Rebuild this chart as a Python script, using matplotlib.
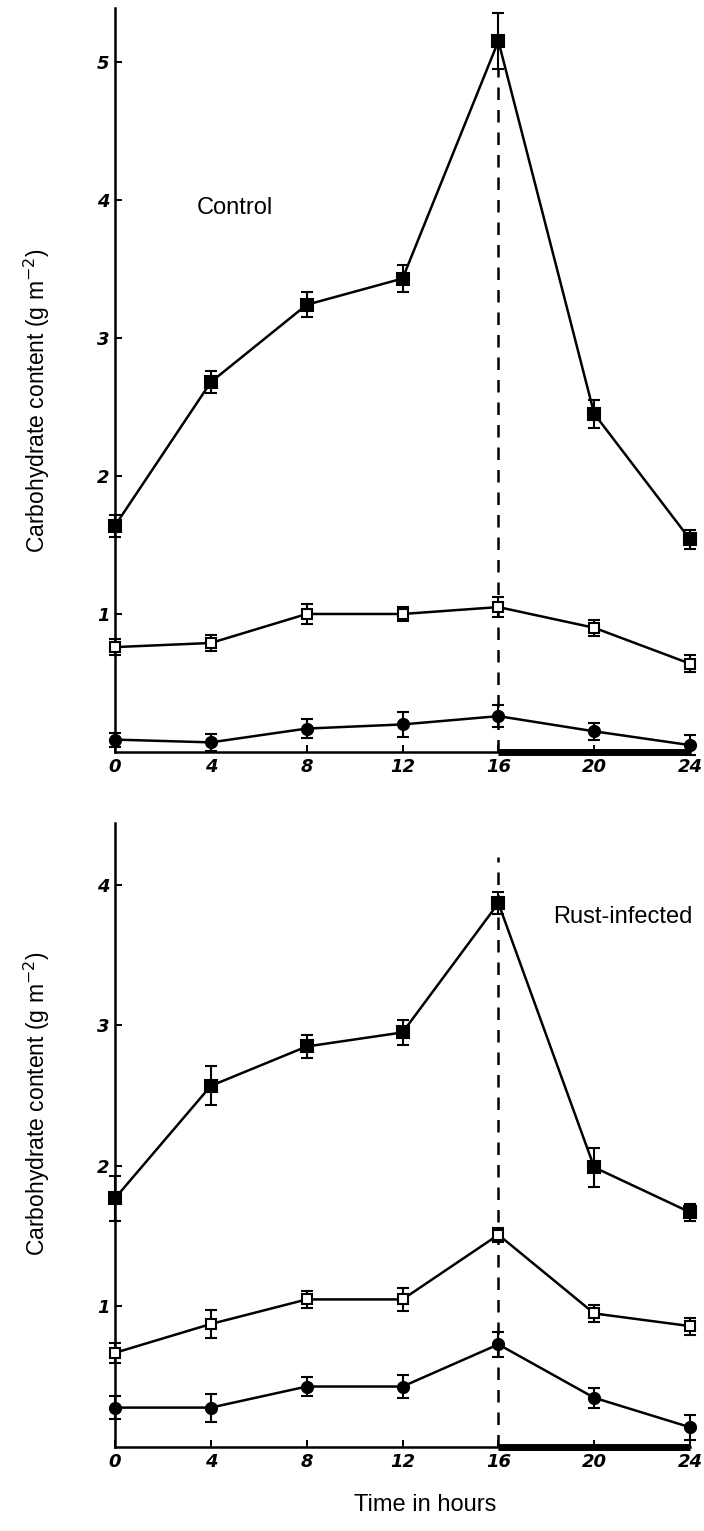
import matplotlib
matplotlib.use("Agg")
import matplotlib.pyplot as plt

plt.rcParams['font.family'] = ['Liberation Sans', 'DejaVu Sans']

hours = [0, 4, 8, 12, 16, 20, 24]

# Control panel
ctrl_sq_filled = [1.64, 2.68, 3.24, 3.43, 5.15, 2.45, 1.54]
ctrl_sq_filled_err = [0.08, 0.08, 0.09, 0.10, 0.20, 0.10, 0.07]
ctrl_sq_open = [0.76, 0.79, 1.00, 1.00, 1.05, 0.90, 0.64]
ctrl_sq_open_err = [0.06, 0.06, 0.07, 0.05, 0.07, 0.06, 0.06]
ctrl_circ = [0.09, 0.07, 0.17, 0.20, 0.26, 0.15, 0.05]
ctrl_circ_err = [0.05, 0.06, 0.07, 0.09, 0.08, 0.06, 0.07]

# Rust-infected panel
rust_sq_filled = [1.77, 2.57, 2.85, 2.95, 3.87, 1.99, 1.67]
rust_sq_filled_err = [0.16, 0.14, 0.08, 0.09, 0.08, 0.14, 0.06]
rust_sq_open = [0.67, 0.875, 1.05, 1.05, 1.51, 0.95, 0.86]
rust_sq_open_err = [0.07, 0.10, 0.06, 0.08, 0.05, 0.06, 0.06]
rust_circ = [0.28, 0.28, 0.43, 0.43, 0.73, 0.35, 0.14]
rust_circ_err = [0.08, 0.10, 0.07, 0.08, 0.09, 0.07, 0.09]

x_ticks = [0, 4, 8, 12, 16, 20, 24]
ctrl_yticks = [1, 2, 3, 4, 5]
rust_yticks = [1, 2, 3, 4]
ylabel = "Carbohydrate content (g m$^{-2}$)"

fig = plt.figure(figsize=(7.04, 15.31), dpi=100)
ax1 = fig.add_axes([0.1634, 0.5088, 0.8168, 0.486])
ax2 = fig.add_axes([0.1634, 0.0549, 0.8168, 0.4075])

def style(ax, ymax, yticks, label_y):
    ax.set_xlim(0, 24)
    ax.set_ylim(0, ymax)
    for s in ['top', 'right']:
        ax.spines[s].set_visible(False)
    for s in ['left', 'bottom']:
        ax.spines[s].set_linewidth(1.8)
    ax.set_xticks(x_ticks)
    ax.set_yticks(yticks)
    ax.tick_params(direction='in', length=5, width=1.4, labelsize=13, pad=4)
    for lab in ax.get_xticklabels() + ax.get_yticklabels():
        lab.set_fontweight('bold')
        lab.set_fontstyle('italic')
        lab.set_family('DejaVu Sans')
    ax.set_ylabel(ylabel, fontsize=16.5)
    ax.yaxis.set_label_coords(-0.110, label_y)

def series(ax, y, err, marker, filled, ms):
    ax.errorbar(hours, y, yerr=err, color='black', lw=1.8, marker=marker,
                ms=ms, mfc='black' if filled else 'white', mec='black', mew=1.5,
                elinewidth=1.5, capsize=4, capthick=1.5, clip_on=False, zorder=5)

style(ax1, 5.39, ctrl_yticks, 0.472)
style(ax2, 4.44, rust_yticks, 0.551)

series(ax1, ctrl_sq_filled, ctrl_sq_filled_err, 's', True, 8)
series(ax1, ctrl_sq_open, ctrl_sq_open_err, 's', False, 6.5)
series(ax1, ctrl_circ, ctrl_circ_err, 'o', True, 8)

series(ax2, rust_sq_filled, rust_sq_filled_err, 's', True, 8)
series(ax2, rust_sq_open, rust_sq_open_err, 's', False, 6.5)
series(ax2, rust_circ, rust_circ_err, 'o', True, 8)

# dark period bar and dashed line at 16 h
for ax, top in [(ax1, 4.95), (ax2, 4.2)]:
    ax.plot([16, 24], [0, 0], color='black', lw=5, solid_capstyle='butt',
            clip_on=False, zorder=6)
    ax.plot([16, 16], [0, top], color='black', lw=1.8, ls=(0, (5, 4)), zorder=3)

ax1.text(3.4, 3.94, "Control", fontsize=17, va='center', ha='left')
ax2.text(18.3, 3.77, "Rust-infected", fontsize=17, va='center', ha='left')

fig.text(425 / 704, 0.017, "Time in hours", fontsize=17, ha='center', va='center')

fig.savefig("out.png", dpi=100)
